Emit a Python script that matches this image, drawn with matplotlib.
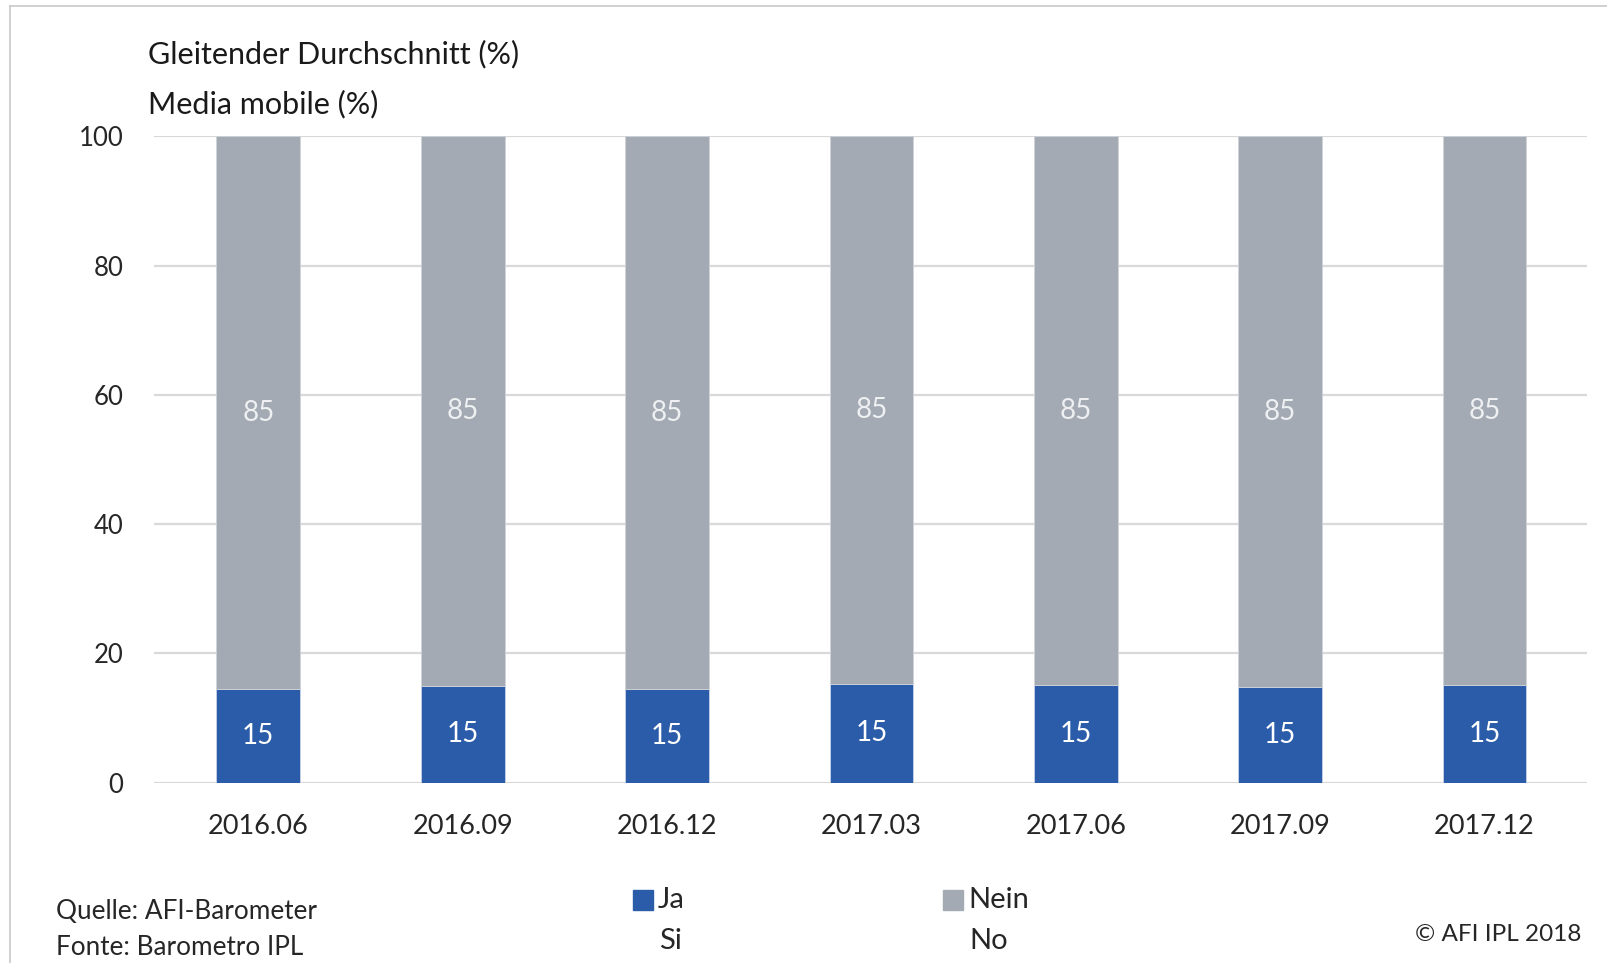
import matplotlib.pyplot as plt
import matplotlib.patches as mpatches
import numpy as np

plt.rcParams['font.family'] = ['Lato', 'DejaVu Sans']

periods = ['2016.06', '2016.09', '2016.12', '2017.03', '2017.06', '2017.09', '2017.12']
ja = [14.5, 15.0, 14.5, 15.2, 15.1, 14.8, 15.1]
nein = [100 - v for v in ja]
ja_labels = ['15', '15', '15', '15', '15', '15', '15']
nein_labels = ['85', '85', '85', '85', '85', '85', '85']
yticks = [0, 20, 40, 60, 80, 100]

blue = '#2B5CAA'
grey = '#A3AAB3'
text_col = '#262626'

fig = plt.figure(figsize=(16.08, 9.63), dpi=100)
ax = fig.add_axes([0.0958, 0.1874, 0.891, 0.671])

x = np.arange(len(periods))
w = 0.41
ax.bar(x, ja, w, color=blue, edgecolor='#C9D3E6', linewidth=0.6, zorder=3)
ax.bar(x, nein, w, bottom=ja, color=grey, edgecolor='#D0D4D9', linewidth=0.6, zorder=3)

for i in range(len(periods)):
    ax.text(x[i], ja[i] / 2, ja_labels[i], ha='center', va='center',
            color='white', fontsize=20, zorder=4)
    ax.text(x[i], ja[i] + nein[i] / 2, nein_labels[i], ha='center', va='center',
            color='#EEF0F2', fontsize=20, zorder=4)

ax.set_xlim(-0.51, 6.5)
ax.set_ylim(0, 100)
ax.set_yticks(yticks)
ax.set_yticklabels([str(v) for v in yticks])
ax.set_xticks(x)
ax.set_xticklabels(periods)
ax.tick_params(axis='y', length=0, pad=22, labelsize=18.5, labelcolor=text_col)
ax.tick_params(axis='x', length=0, pad=23, labelsize=19.5, labelcolor=text_col)
ax.yaxis.grid(True, color='#D9D9D9', linewidth=1.6, zorder=0)
for s in ax.spines.values():
    s.set_visible(False)

# titles
fig.text(148 / 1608, 1 - 54 / 963, 'Gleitender Durchschnitt (%)', fontsize=22,
         color='#1a1a1a', va='center', ha='left')
fig.text(148 / 1608, 1 - 104 / 963, 'Media mobile (%)', fontsize=22,
         color='#1a1a1a', va='center', ha='left')

# frame lines
fig.add_artist(plt.Line2D([10 / 1608, 10 / 1608], [0, 1 - 6 / 963], color='#C8C8C8', lw=1.2))
fig.add_artist(plt.Line2D([10 / 1608, 1], [1 - 6 / 963, 1 - 6 / 963], color='#C8C8C8', lw=1.2))

# source
fig.text(56 / 1608, 1 - 911 / 963, 'Quelle: AFI-Barometer', fontsize=18.8, color=text_col, va='center')
fig.text(56 / 1608, 1 - 947 / 963, 'Fonte: Barometro IPL', fontsize=18.8, color=text_col, va='center')
fig.text(1581 / 1608, 1 - 934 / 963, '© AFI IPL 2018', fontsize=17.5, color=text_col, va='center', ha='right')

# legend
for col, x0, top, bot in [(blue, 633, 'Ja', 'Si'), (grey, 943, 'Nein', 'No')]:
    fig.add_artist(mpatches.Rectangle((x0 / 1608, 1 - 910 / 963), 20 / 1608, 20 / 963,
                                      color=col, transform=fig.transFigure))
    fig.text((x0 + 25) / 1608, 1 - 900 / 963, top, fontsize=21, color=text_col, va='center')
    fig.text((x0 + 26) / 1608, 1 - 941 / 963, bot, fontsize=21, color=text_col, va='center')

fig.savefig('out.png', dpi=100, facecolor='white')
